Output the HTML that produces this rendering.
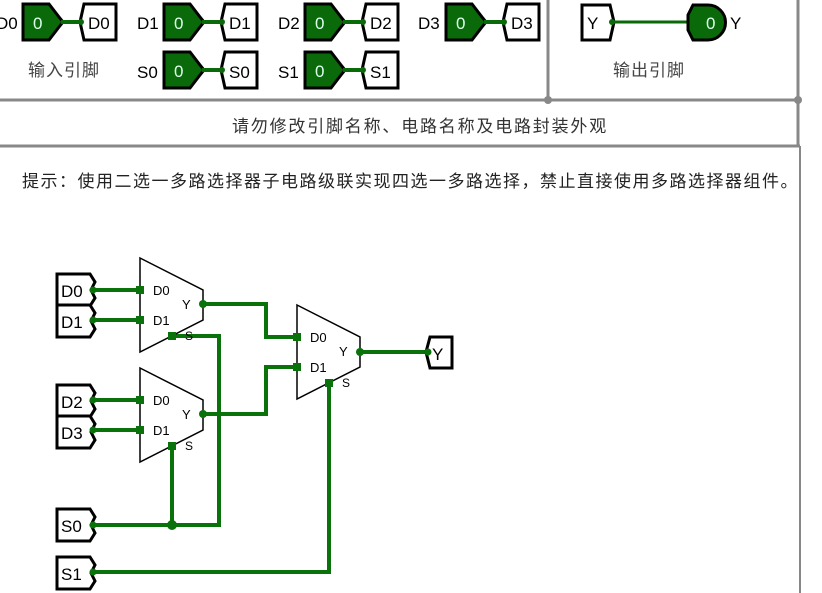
<!DOCTYPE html>
<html><head><meta charset="utf-8"><style>
html,body{margin:0;padding:0;background:#fff;}
svg{display:block;font-family:"Liberation Sans","Noto Sans CJK SC",sans-serif;}
</style></head><body>
<svg width="822" height="593" viewBox="0 0 822 593">
<defs>
<g id="inpin">
 <polygon points="0,0 26,0 36,13 40,18 36,23 26,36 0,36" fill="#0a6a0a" stroke="#000" stroke-width="3"/>
 <text x="10" y="25" font-size="17" fill="#dfe">0</text>
 <path d="M38,18 L57,18" stroke="#0a6a0a" stroke-width="4"/>
 <polygon points="61,0 93,0 93,36 61,36 57,18" fill="#fff" stroke="#000" stroke-width="3"/>
 <circle cx="58" cy="18" r="3" fill="#0a6a0a"/>
</g>
<g id="cpin">
 <polygon points="0,0 33,0 38,8 34,16 38,24 33,32 0,32" fill="#fff" stroke="#000" stroke-width="3"/>
</g>
<g id="mux">
 <polygon points="0,0 63,32 63,62 0,94" fill="#fff" stroke="#000" stroke-width="1.5"/>
 <text x="13" y="37" font-size="13">D0</text>
 <text x="13" y="67" font-size="13">D1</text>
 <text x="42" y="51" font-size="13">Y</text>
 <text x="45" y="82" font-size="12">S</text>
</g>
</defs>
<g stroke="#888" stroke-width="3" fill="none">
 <line x1="0" y1="100" x2="800" y2="100"/>
 <line x1="0" y1="146" x2="800" y2="146"/>
 <line x1="548" y1="0" x2="548" y2="100"/>
 <line x1="798" y1="0" x2="798" y2="146"/>
</g>
<line x1="800" y1="146" x2="800" y2="593" stroke="#888" stroke-width="2"/>
<circle cx="548" cy="100" r="4" fill="#888"/>
<circle cx="798" cy="100" r="4" fill="#888"/>
<text x="232" y="132" font-size="17" letter-spacing="1.8" fill="#333">请勿修改引脚名称、电路名称及电路封装外观</text>
<text x="-4" y="29" font-size="17">D0</text>
<use href="#inpin" x="23" y="4"/>
<text x="137" y="29" font-size="17">D1</text>
<use href="#inpin" x="164" y="4"/>
<text x="278" y="29" font-size="17">D2</text>
<use href="#inpin" x="305" y="4"/>
<text x="418" y="29" font-size="17">D3</text>
<use href="#inpin" x="446" y="4"/>
<text x="137" y="78" font-size="17">S0</text>
<use href="#inpin" x="164" y="52"/>
<text x="278" y="78" font-size="17">S1</text>
<use href="#inpin" x="305" y="52"/>
<g font-size="17" fill="#000">
<text x="88" y="29">D0</text><text x="229" y="29">D1</text><text x="370" y="29">D2</text><text x="511" y="29">D3</text>
<text x="229" y="78">S0</text><text x="370" y="78">S1</text>
</g>
<text x="28" y="76" font-size="17" letter-spacing="1" fill="#444">输入引脚</text>
<polygon points="582,5 610,5 614,22 610,40 582,40" fill="#fff" stroke="#000" stroke-width="3"/>
<text x="587" y="29" font-size="17">Y</text>
<line x1="612" y1="22" x2="690" y2="22" stroke="#0a6a0a" stroke-width="3"/>
<circle cx="612" cy="22" r="3" fill="#0a6a0a"/>
<path d="M693,5 L708,5 A17,17 0 0 1 708,40 L693,40 L688,30 L688,15 Z" fill="#0a6a0a" stroke="#000" stroke-width="3"/>
<text x="706" y="29" font-size="17" fill="#dfe">0</text>
<text x="730" y="29" font-size="17">Y</text>
<text x="613" y="76" font-size="17" letter-spacing="1" fill="#444">输出引脚</text>
<text x="22" y="187" font-size="17" letter-spacing="1.5" fill="#222">提示：使用二选一多路选择器子电路级联实现四选一多路选择，禁止直接使用多路选择器组件。</text>
<g stroke="#0a720a" stroke-width="4" fill="none">
 <path d="M93,290 H140"/><path d="M93,320 H140"/>
 <path d="M93,400 H140"/><path d="M93,430 H140"/>
 <path d="M203,304 H266 V337 H297"/>
 <path d="M203,414 H266 V367 H297"/>
 <path d="M172,336 H219 V525 H93"/>
 <path d="M172,446 V525"/>
 <path d="M93,572 H329 V383"/>
 <path d="M360,352 H425"/>
</g>
<circle cx="172" cy="525" r="5" fill="#0a720a"/>
<use href="#mux" x="140" y="258"/>
<use href="#mux" x="140" y="368"/>
<use href="#mux" x="297" y="305"/>
<g fill="#0a720a">
 <rect x="136" y="286" width="8" height="8"/><rect x="136" y="316" width="8" height="8"/>
 <rect x="136" y="396" width="8" height="8"/><rect x="136" y="426" width="8" height="8"/>
 <rect x="293" y="333" width="8" height="8"/><rect x="293" y="363" width="8" height="8"/>
 <rect x="168" y="332" width="8" height="8"/><rect x="168" y="442" width="8" height="8"/>
 <rect x="325" y="379" width="8" height="8"/>
 <circle cx="203" cy="304" r="4"/><circle cx="203" cy="414" r="4"/><circle cx="360" cy="352" r="4"/>
</g>
<use href="#cpin" x="57" y="274"/>
<use href="#cpin" x="57" y="305"/>
<use href="#cpin" x="57" y="385"/>
<use href="#cpin" x="57" y="416"/>
<use href="#cpin" x="57" y="509"/>
<use href="#cpin" x="57" y="557"/>
<g fill="#0a720a">
 <circle cx="93" cy="290" r="3.5"/><circle cx="93" cy="320" r="3.5"/><circle cx="93" cy="400" r="3.5"/>
 <circle cx="93" cy="430" r="3.5"/><circle cx="93" cy="525" r="3.5"/><circle cx="93" cy="572" r="3.5"/>
</g>
<g font-size="17">
 <text x="61" y="297">D0</text><text x="61" y="328">D1</text>
 <text x="61" y="408">D2</text><text x="61" y="439">D3</text>
 <text x="61" y="532">S0</text><text x="61" y="580">S1</text>
</g>
<polygon points="430,337 452,337 452,368 430,368 426,352" fill="#fff" stroke="#000" stroke-width="3"/>
<circle cx="428" cy="352" r="3.5" fill="#0a720a"/>
<text x="432" y="360" font-size="17">Y</text>
</svg>
</body></html>
